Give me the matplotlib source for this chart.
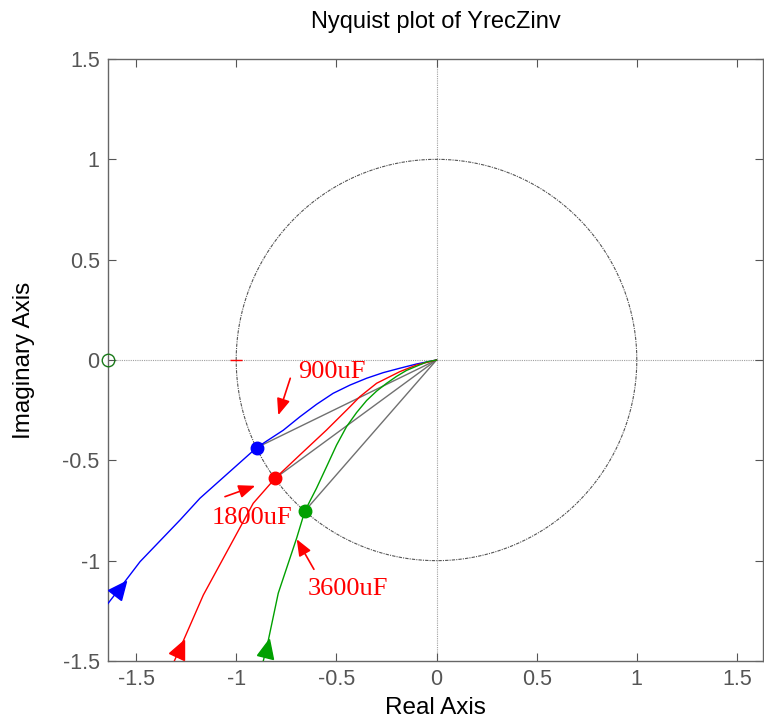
import numpy as np
import matplotlib
matplotlib.use("Agg")
import matplotlib.pyplot as plt
from matplotlib.markers import MarkerStyle
from matplotlib.transforms import Affine2D

# ---- data ----
blue_re = [0.0, -0.100, -0.183, -0.266, -0.349, -0.432, -0.516, -0.599, -0.682, -0.765, -0.848,
           -0.898, -1.181, -1.280, -1.480, -1.580, -1.646]
blue_im = [0.0, -0.020, -0.041, -0.063, -0.091, -0.125, -0.166, -0.221, -0.283, -0.350, -0.404,
           -0.437, -0.689, -0.797, -1.005, -1.136, -1.221]
red_re = [0.0, -0.100, -0.183, -0.299, -0.383, -0.432, -0.549, -0.682, -0.805, -0.915, -1.164, -1.280, -1.309]
red_im = [0.0, -0.025, -0.058, -0.116, -0.183, -0.233, -0.349, -0.473, -0.589, -0.714, -1.171, -1.436, -1.500]
green_re = [0.0, -0.050, -0.150, -0.200, -0.249, -0.299, -0.349, -0.399, -0.449, -0.499, -0.549,
            -0.599, -0.657, -0.698, -0.790, -0.848, -0.865]
green_im = [0.0, -0.010, -0.052, -0.082, -0.116, -0.155, -0.202, -0.262, -0.332, -0.424, -0.532,
            -0.639, -0.752, -0.887, -1.162, -1.436, -1.500]

cross_re = [-0.898, -0.805, -0.657]   # unit-circle crossing points
cross_im = [-0.437, -0.589, -0.752]

labels = ["900uF", "1800uF", "3600uF"]
label_xy = [(-0.524, -0.06), (-0.923, -0.785), (-0.441, -1.14)]
label_arrow_tail = [(-0.730, -0.091), (-1.056, -0.681), (-0.612, -1.043)]
label_arrow_head = [(-0.790, -0.275), (-0.905, -0.627), (-0.698, -0.893)]

ticks = [-1.5, -1, -0.5, 0, 0.5, 1, 1.5]
tick_labels = ["-1.5", "-1", "-0.5", "0", "0.5", "1", "1.5"]

colors = ["#0000ff", "#ff0000", "#00a000"]

plt.rcParams['font.family'] = ['Liberation Sans', 'DejaVu Sans']

fig = plt.figure(figsize=(7.64, 7.24), dpi=100)
ax = fig.add_axes([108/764, 63/724, (763-108)/764, (661-59)/724])

# zero lines
ax.axhline(0, color="#a0a0a0", lw=0.8, ls=(0, (1, 1)), zorder=1)
ax.axvline(0, color="#a0a0a0", lw=0.8, ls=(0, (1, 1)), zorder=1)

# unit circle
th = np.linspace(0, 2*np.pi, 721)
ax.plot(np.cos(th), np.sin(th), color="#555555", lw=0.8, ls=(0, (3, 1, 1, 1)), zorder=2)

# gray chords from origin to crossing points
for xr, yi in zip(cross_re, cross_im):
    ax.plot([0, xr], [0, yi], color="#707070", lw=1.0, zorder=3)

curves = [(blue_re, blue_im), (red_re, red_im), (green_re, green_im)]
for (xs, ys), c in zip(curves, colors):
    ax.plot(xs, ys, color=c, lw=1.0, zorder=4)
    k = len(xs) - 2
    dx = xs[k-1] - xs[k]
    dy = ys[k-1] - ys[k]
    ang = np.degrees(np.arctan2(dy, dx)) - 90
    m = MarkerStyle('^', transform=Affine2D().scale(1.0, 1.1).rotate_deg(ang))
    ax.plot([xs[k]], [ys[k]], marker=m, color=c, ms=12, ls='none', zorder=5)

for xr, yi, c in zip(cross_re, cross_im, colors):
    ax.plot([xr], [yi], 'o', color=c, ms=9, zorder=6)

# critical point marker and open circle
ax.plot([-1], [0], '_', color='red', ms=9, mew=1.0, zorder=5)
ax.plot([-1.64], [0], 'o', mfc='none', mec='#1a7a1a', ms=9, mew=1.0, zorder=6, clip_on=False)

for t, xy, tail, head in zip(labels, label_xy, label_arrow_tail, label_arrow_head):
    ax.text(xy[0], xy[1], t, color='red', fontsize=19, family=['Liberation Serif'],
            ha='center', va='center', zorder=7)
    ax.annotate("", xy=head, xytext=tail,
                arrowprops=dict(arrowstyle='-|>,head_length=1.0,head_width=0.4',
                                color='red', lw=1.2, shrinkA=0, shrinkB=0), zorder=7)

ax.set_xlim(-1.64, 1.63)
ax.set_ylim(-1.5, 1.5)
ax.set_xticks(ticks)
ax.set_xticklabels(tick_labels)
ax.set_yticks(ticks)
ax.set_yticklabels(tick_labels)
ax.tick_params(direction='in', length=6, width=0.8, colors='#555555', labelsize=15.5,
               top=True, right=True, pad=6)
for s in ax.spines.values():
    s.set_color('#666666')
    s.set_linewidth(1.0)

ax.set_title("Nyquist plot of YrecZinv", fontsize=17, color='black', pad=22)
ax.set_xlabel("Real Axis", fontsize=17.5, color='black', labelpad=5)
ax.set_ylabel("Imaginary Axis", fontsize=17.5, color='black', labelpad=20)

fig.savefig("out.png", dpi=100)
